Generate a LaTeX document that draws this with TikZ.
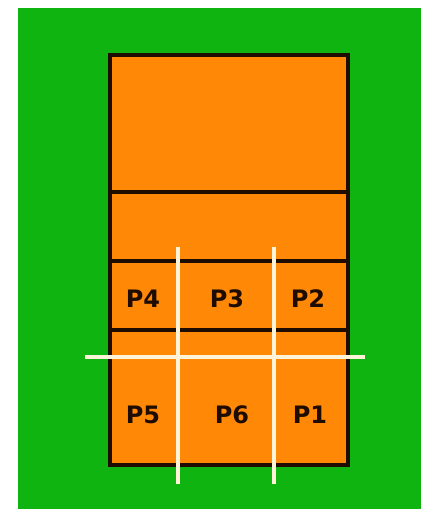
\documentclass[tikz,border=0pt]{standalone}
\usepackage{fontspec}
\setmainfont{DejaVu Sans}
\definecolor{grass}{RGB}{16,180,16}
\definecolor{court}{RGB}{255,136,6}
\definecolor{edge}{RGB}{30,12,0}
\definecolor{chalk}{RGB}{255,244,215}
\begin{document}
\begin{tikzpicture}[x=1pt,y=-1pt,
  courtline/.style={draw=edge,line width=3.5pt},
  whiteline/.style={draw=chalk,line width=4pt},
  poslabel/.style={font=\bfseries\fontsize{24}{24}\selectfont,text=edge,inner sep=0pt}]
\useasboundingbox (0,0) rectangle (421,509);
\fill[white] (0,0) rectangle (421,509);
\fill[grass] (18,8) rectangle (421,509);
\fill[court] (110,55) rectangle (348,465);
\coordinate (tl) at (110,55);
\coordinate (br) at (348,465);
\draw[courtline] (110,192) -- (348,192);
\draw[courtline] (110,261) -- (348,261);
\draw[courtline] (110,330) -- (348,330);
\draw[courtline] (tl) rectangle (br);
\coordinate (h1) at (85,357);
\coordinate (h2) at (365,357);
\coordinate (v1a) at (178,247);
\coordinate (v1b) at (178,484);
\coordinate (v2a) at (274,247);
\coordinate (v2b) at (274,484);
\draw[whiteline] (h1) -- (h2);
\draw[whiteline] (v1a) -- (v1b);
\draw[whiteline] (v2a) -- (v2b);
\node[poslabel] (p4) at (143,299) {P4};
\node[poslabel] (p3) at (227,299) {P3};
\node[poslabel] (p2) at (308,299) {P2};
\node[poslabel] (p5) at (143,415) {P5};
\node[poslabel] (p6) at (232,415) {P6};
\node[poslabel] (p1) at (310,415) {P1};
\end{tikzpicture}
\end{document}
